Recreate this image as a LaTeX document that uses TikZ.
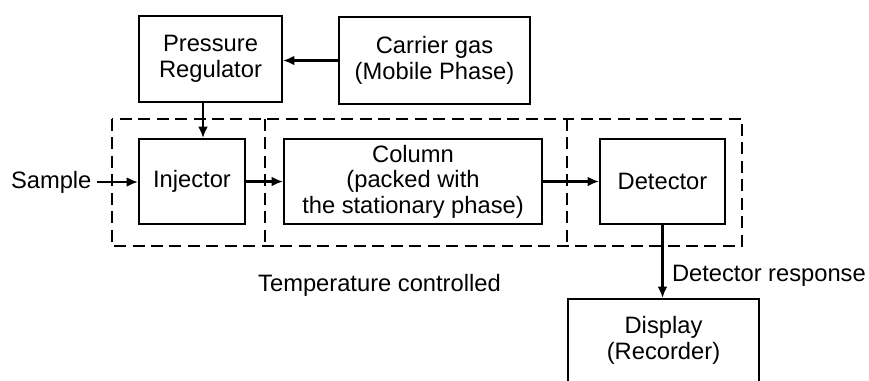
\documentclass[tikz,border=0pt]{standalone}
\usepackage{fontspec}
\setmainfont{Liberation Sans}
\usetikzlibrary{arrows.meta}

\tikzset{
  block/.style={draw, align=center, inner sep=0pt},
  zone/.style={draw, dash pattern=on 6.8pt off 3.7pt},
  txt/.style={inner sep=0pt}
}

\begin{document}
\begin{tikzpicture}[x=0.02cm, y=-0.02cm, line width=1.15pt,
    >={Latex[length=6.5pt,width=5.5pt]},
    font=\fontsize{13.5}{14.5}\selectfont]
	\useasboundingbox (0,0) rectangle (869,380);

            \node[block, minimum width=2.86cm, minimum height=1.72cm] (press) at (210.5,59) {Pressure\\Regulator};
            \node[block, minimum width=3.82cm, minimum height=1.74cm] (carrier) at (434.5,60.5) {Carrier gas\\(Mobile Phase)};
            \node[block, minimum width=2.12cm, minimum height=1.70cm] (inj) at (192,181.5) {Injector};
            \node[block, minimum width=5.16cm, minimum height=1.70cm] (col) at (413,181.5) {Column\\(packed with\\the stationary phase)};
            \node[block, minimum width=2.50cm, minimum height=1.70cm] (det) at (662.5,181.5) {Detector};
            \node[block, minimum width=3.82cm, minimum height=1.66cm] (disp) at (663.5,340.5) {Display\\(Recorder)};

            \node[txt, inner xsep=2.6pt, anchor=east] (sample) at (97,182) {Sample};
            \node[txt] (temp) at (379.5,285) {Temperature controlled};
            \node[txt, anchor=west] (resp) at (671,276) {Detector response};

            % heated zones
            \draw[zone] (112,119) rectangle (742,246);
            \foreach \x in {265,567}{
              \draw[zone] (\x,119) -- (\x,246);
            }

            \coordinate (feed) at (203,0);
            \draw[->] (carrier.west) -- (carrier.west -| press.east);
            \draw[->] (press.south -| feed) -- (inj.north -| feed);
            \draw[->] (sample.east) -- (inj.west |- sample.east);
            \draw[->] (inj) -- (col);
            \draw[->] (col) -- (det);
            \draw[->] (det.south) -- (disp.north -| det.south);

          %\node at (0,0) {};
        \end{tikzpicture}
\end{document}
